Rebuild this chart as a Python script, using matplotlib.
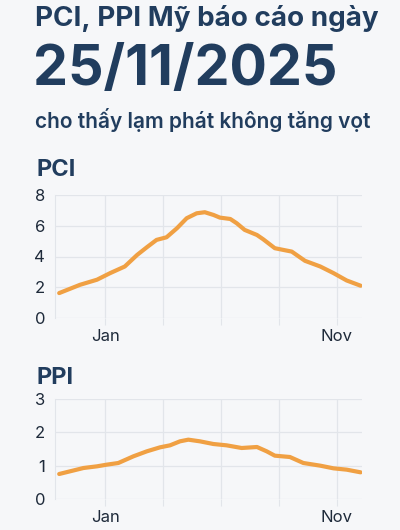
import matplotlib
matplotlib.use("Agg")
import matplotlib.pyplot as plt

plt.rcParams['font.family'] = ['Inter', 'DejaVu Sans']

# x in months (Jan = 0, Nov = 10)
pci_x = [-1.98, -1.08, -0.35, 0.22, 0.85, 1.38, 1.8, 2.22, 2.65, 3.1, 3.52, 3.95, 4.3, 4.68,
         4.95, 5.4, 5.68, 6.02, 6.55, 6.82, 7.32, 7.68, 8.05, 8.62, 9.28, 9.85, 10.42, 11.02]
pci_y = [1.62, 2.16, 2.49, 2.92, 3.35, 4.1, 4.6, 5.08, 5.25, 5.84, 6.49, 6.81, 6.88, 6.7,
         6.53, 6.44, 6.16, 5.73, 5.4, 5.12, 4.54, 4.43, 4.32, 3.72, 3.35, 2.92, 2.44, 2.1]

ppi_x = [-1.98, -0.93, -0.35, 0.07, 0.57, 1.22, 1.8, 2.37, 2.8, 3.23, 3.59, 4.09, 4.67, 5.24,
         5.89, 6.55, 6.97, 7.32, 7.97, 8.55, 9.28, 9.85, 10.42, 11.02]
ppi_y = [0.75, 0.93, 0.98, 1.03, 1.08, 1.28, 1.43, 1.55, 1.61, 1.73, 1.78, 1.73, 1.65, 1.61,
         1.53, 1.56, 1.43, 1.3, 1.26, 1.08, 1.0, 0.92, 0.88, 0.8]

grid_x = [0, 2.5, 5, 7.5, 10]
grid_labels = ['Jan', '', '', '', 'Nov']

navy = '#213d5e'
orange = '#f0a043'
gridc = '#e2e5ea'
bg = '#f6f7f9'

fig = plt.figure(figsize=(4, 5.3), dpi=100, facecolor=bg)

fig.text(35/400, 1 - 18/530, 'PCI, PPI Mỹ báo cáo ngày', fontsize=20, fontweight='bold',
         color=navy, va='center', ha='left')
fig.text(33/400, 1 - 70/530, '25/11/2025', fontsize=40, fontweight='bold',
         color=navy, va='center', ha='left')
fig.text(35/400, 1 - 120/530, 'cho thấy lạm phát không tăng vọt', fontsize=15,
         fontweight='semibold', color=navy, va='center', ha='left')


def panel(rect, xs, ys, ymax, title, title_y):
    ax = fig.add_axes(rect)
    ax.set_facecolor(bg)
    ax.plot(xs, ys, color=orange, lw=3, solid_capstyle='round', solid_joinstyle='round')
    ax.set_xlim(-2.16, 11.08)
    ax.set_ylim(0, ymax)
    ax.set_yticks(range(0, ymax + 1, 2 if ymax > 4 else 1))
    ax.set_xticks(grid_x)
    ax.set_xticklabels(grid_labels)
    ax.grid(True, color=gridc, lw=0.9)
    ax.set_axisbelow(True)
    for s in ['top', 'right', 'bottom']:
        ax.spines[s].set_visible(False)
    ax.spines['left'].set_color(gridc)
    ax.tick_params(axis='y', length=0, labelsize=12, labelcolor='#1e2a3a', pad=7)
    ax.tick_params(axis='x', length=5, color=gridc, labelsize=12, labelcolor='#1e2a3a', pad=3)
    fig.text(36/400, 1 - title_y/530, title, fontsize=17, fontweight='bold',
             color=navy, va='center', ha='left')
    return ax


panel([55/400, 1 - 318/530, 307/400, 123/530], pci_x, pci_y, 8, 'PCI', 170)
panel([55/400, 1 - 499/530, 307/400, 100/530], ppi_x, ppi_y, 3, 'PPI', 378)

fig.savefig('out.png', dpi=100, facecolor=bg)
